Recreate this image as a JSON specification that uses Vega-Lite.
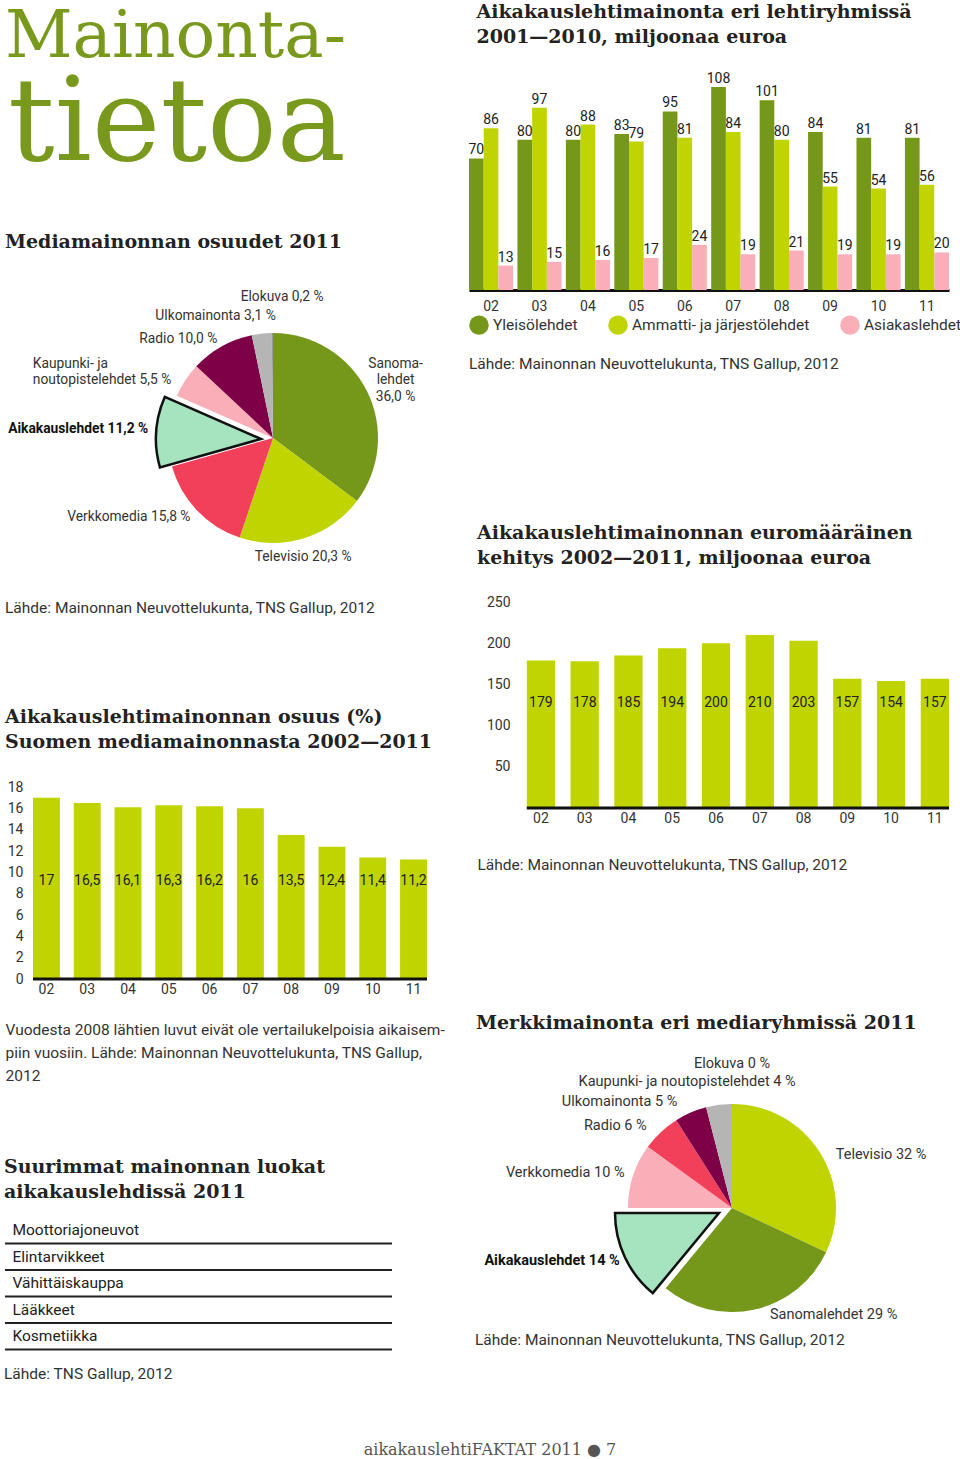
{
  "$schema": "https://vega.github.io/schema/vega-lite/v6.json",
  "background": "white",
  "padding": {"left": 4, "top": 2, "right": 0, "bottom": 0},
  "config": {
    "view": {"stroke": null},
    "font": "Roboto",
    "axis": {"labelFont": "Roboto", "labelFontSize": 14, "labelColor": "#333", "titleFont": "Roboto", "titleFontWeight": "normal", "titleFontSize": 15.5, "titleColor": "#333", "grid": false, "ticks": false, "domain": false, "labelAngle": 0, "labelOverlap": false},
    "title": {"font": "DejaVu Serif", "fontSize": 19, "fontWeight": "bold", "color": "#222", "anchor": "start", "lineHeight": 25},
    "text": {"font": "Roboto", "fontSize": 13.8, "color": "#333"},
    "locale": {"number": {"decimal": ",", "thousands": " ", "grouping": [3], "currency": ["", " €"]}}
  },
  "title": {"text": "aikakauslehtiFAKTAT 2011  ●  7", "orient": "bottom", "anchor": "middle", "font": "DejaVu Serif", "fontWeight": "normal", "fontSize": 16, "color": "#555", "offset": 60, "dx": 7},
  "spacing": 15,
  "resolve": {"scale": {"color": "independent", "theta": "independent"}},
  "hconcat": [
    {
      "spacing": 50,
      "resolve": {"scale": {"color": "independent", "theta": "independent"}},
      "vconcat": [
        {
          "width": 344, "height": 80,
          "title": {"text": "Mainonta-", "font": "DejaVu Serif", "fontWeight": "normal", "fontSize": 66, "color": "#78991c", "offset": -4, "lineHeight": 66},
          "data": {"values": [{"t": "tietoa"}]},
          "mark": {"type": "text", "font": "DejaVu Serif", "fontSize": 116, "color": "#78991c", "align": "center", "baseline": "alphabetic", "dy": 33},
          "encoding": {"text": {"field": "t", "type": "nominal"}}
        },
        {
          "spacing": 90,
          "resolve": {"scale": {"color": "independent", "theta": "independent"}},
          "vconcat": [
            {
              "resolve": {"scale": {"color": "independent", "theta": "independent"}},
              "title": {"text": "Lähde: Mainonnan Neuvottelukunta, TNS Gallup, 2012", "orient": "bottom", "anchor": "start", "font": "Roboto", "fontWeight": "normal", "fontSize": 15.5, "color": "#333", "offset": 22},
              "vconcat": [
                {
                  "width": 448, "height": 214,
                  "title": {"text": "Mediamainonnan osuudet 2011", "offset": 29},
                  "data": {"values": [
                    {"n": 1, "cat": "Sanomalehdet", "v": 36.0, "lab": "Sanoma-\nlehdet\n36,0 %"},
                    {"n": 2, "cat": "Televisio", "v": 20.3, "lab": "Televisio 20,3 %"},
                    {"n": 3, "cat": "Verkkomedia", "v": 15.8, "lab": "Verkkomedia 15,8 %"},
                    {"n": 4, "cat": "Aikakauslehdet", "v": 11.2, "lab": "Aikakauslehdet 11,2 %"},
                    {"n": 5, "cat": "Kaupunki- ja noutopistelehdet", "v": 5.5, "lab": "Kaupunki- ja\nnoutopistelehdet 5,5 %"},
                    {"n": 6, "cat": "Radio", "v": 10.0, "lab": "Radio 10,0 %"},
                    {"n": 7, "cat": "Ulkomainonta", "v": 3.1, "lab": "Ulkomainonta 3,1 %"},
                    {"n": 8, "cat": "Elokuva", "v": 0.2, "lab": "Elokuva 0,2 %"}
                  ]},
                  "encoding": {
                    "theta": {"field": "v", "type": "quantitative", "stack": true},
                    "order": {"field": "n", "type": "quantitative"}
                  },
                  "layer": [
                    {"mark": {"type": "arc", "outerRadius": 105, "xOffset": 44},
                     "encoding": {"color": {"field": "cat", "type": "nominal", "legend": null, "scale": {"domain": ["Sanomalehdet", "Televisio", "Verkkomedia", "Aikakauslehdet", "Kaupunki- ja noutopistelehdet", "Radio", "Ulkomainonta", "Elokuva"], "range": ["#76981a", "#bfd400", "#f2405a", "#a6e4c0", "#f9aeb8", "#7e0046", "#b5b5b5", "#999999"]}},
                       "opacity": {"condition": {"test": "datum.cat === 'Aikakauslehdet'", "value": 0}, "value": 1}}},
                    {"mark": {"type": "arc", "outerRadius": 105, "xOffset": 32, "yOffset": 1, "stroke": "#111", "strokeWidth": 2.5},
                     "encoding": {"color": {"field": "cat", "type": "nominal", "legend": null},
                       "opacity": {"condition": {"test": "datum.cat === 'Aikakauslehdet'", "value": 1}, "value": 0}}},
                    {"mark": {"type": "text", "lineBreak": "\n", "baseline": "middle", "xOffset": 44, "radius": 137, "align": "center", "dy": -13, "lineHeight": 16.5},
                     "encoding": {"text": {"condition": {"test": "datum.cat === 'Sanomalehdet'", "field": "lab", "type": "nominal"}, "value": ""}}},
                    {"mark": {"type": "text", "baseline": "middle", "xOffset": 44, "radius": 125, "align": "center", "dx": -7},
                     "encoding": {"text": {"condition": {"test": "datum.cat === 'Televisio'", "field": "lab", "type": "nominal"}, "value": ""}}},
                    {"mark": {"type": "text", "baseline": "middle", "xOffset": 44, "radius": 114, "align": "right"},
                     "encoding": {"text": {"condition": {"test": "datum.cat === 'Verkkomedia' || datum.cat === 'Radio'", "field": "lab", "type": "nominal"}, "value": ""}}},
                    {"mark": {"type": "text", "baseline": "middle", "xOffset": 44, "radius": 125, "align": "right", "fontWeight": "bold", "color": "#111"},
                     "encoding": {"text": {"condition": {"test": "datum.cat === 'Aikakauslehdet'", "field": "lab", "type": "nominal"}, "value": ""}}},
                    {"mark": {"type": "text", "lineBreak": "\n", "baseline": "middle", "xOffset": 44, "radius": 120, "align": "left", "dx": -140, "dy": -8, "lineHeight": 16.5},
                     "encoding": {"text": {"condition": {"test": "datum.cat === 'Kaupunki- ja noutopistelehdet'", "field": "lab", "type": "nominal"}, "value": ""}}},
                    {"mark": {"type": "text", "baseline": "middle", "xOffset": 44, "radius": 123, "align": "right", "dx": 16},
                     "encoding": {"text": {"condition": {"test": "datum.cat === 'Ulkomainonta'", "field": "lab", "type": "nominal"}, "value": ""}}},
                    {"mark": {"type": "text", "baseline": "middle", "xOffset": 44, "radius": 141, "align": "center", "dx": 10},
                     "encoding": {"text": {"condition": {"test": "datum.cat === 'Elokuva'", "field": "lab", "type": "nominal"}, "value": ""}}}
                  ]
                }
              ]
            },
            {
              "spacing": 74,
              "resolve": {"scale": {"color": "independent", "theta": "independent"}},
              "vconcat": [
                {
                  "width": 422, "height": 192,
                  "title": {"text": ["Aikakauslehtimainonnan osuus (%)", "Suomen mediamainonnasta 2002—2011"], "offset": 28.5},
                  "data": {"values": [
                    {"y": "02", "v": 17}, {"y": "03", "v": 16.5}, {"y": "04", "v": 16.1}, {"y": "05", "v": 16.3}, {"y": "06", "v": 16.2},
                    {"y": "07", "v": 16}, {"y": "08", "v": 13.5}, {"y": "09", "v": 12.4}, {"y": "10", "v": 11.4}, {"y": "11", "v": 11.2}
                  ]},
                  "encoding": {
                    "x": {"field": "y", "type": "ordinal", "scale": {"paddingInner": 0.34, "paddingOuter": 0.343, "align": 1},
                      "axis": {"labelPadding": 3, "title": ["Vuodesta 2008 lähtien luvut eivät ole vertailukelpoisia aikaisem-", "piin vuosiin. Lähde: Mainonnan Neuvottelukunta, TNS Gallup,", "2012"], "titleAlign": "left", "titleAnchor": "start", "titleX": 0, "titleY": 55.5, "titleBaseline": "alphabetic", "titleLineHeight": 23}}
                  },
                  "layer": [
                    {"mark": {"type": "bar", "color": "#bfd400"},
                     "encoding": {"y": {"field": "v", "type": "quantitative", "scale": {"domain": [0, 18], "nice": false}, "axis": {"tickCount": 9, "labelOverlap": false, "labelSeparation": 0, "offset": -26, "labelPadding": 8, "title": null}}}},
                    {"mark": {"type": "text", "baseline": "middle", "fontSize": 14, "color": "#222"},
                     "encoding": {"y": {"datum": 9.2}, "text": {"field": "v", "type": "quantitative", "format": "~g"}}},
                    {"data": {"values": [{}]},
                     "mark": {"type": "rule", "strokeWidth": 3, "color": "#111"},
                     "encoding": {"x": {"datum": "02", "type": "ordinal", "bandPosition": 0}, "x2": {"datum": "11", "bandPosition": 1}, "y": {"datum": 0}}}
                  ]
                },
                {
                  "resolve": {"scale": {"color": "independent", "theta": "independent"}},
                  "title": {"text": "Lähde: TNS Gallup, 2012", "orient": "bottom", "anchor": "start", "font": "Roboto", "fontWeight": "normal", "fontSize": 15.5, "color": "#333", "offset": 16},
                  "vconcat": [
                    {
                      "width": 387, "height": 132.5,
                      "title": {"text": ["Suurimmat mainonnan luokat", "aikakauslehdissä 2011"], "offset": 15},
                      "data": {"values": [{"k": "Moottoriajoneuvot"}, {"k": "Elintarvikkeet"}, {"k": "Vähittäiskauppa"}, {"k": "Lääkkeet"}, {"k": "Kosmetiikka"}]},
                      "mark": {"type": "rule", "strokeWidth": 2, "color": "#222"},
                      "encoding": {
                        "y": {"field": "k", "type": "nominal", "sort": null, "bandPosition": 1, "scale": {"type": "band", "paddingInner": 0, "paddingOuter": 0},
                          "axis": {"title": null, "labelAlign": "left", "labelPadding": -7, "labelFontSize": 15.5, "labelColor": "#222", "labelBaseline": "middle"}}
                      }
                    }
                  ]
                }
              ]
            }
          ]
        }
      ]
    },
    {
      "spacing": 151,
      "resolve": {"scale": {"color": "independent", "theta": "independent"}},
      "vconcat": [
        {
          "width": 480, "height": 203,
          "title": {"text": ["Aikakauslehtimainonta eri lehtiryhmissä", "2001—2010, miljoonaa euroa"], "dx": 8, "offset": 25.3},
          "data": {"values": [
            {"y": "02", "g": "Yleisölehdet", "v": 70}, {"y": "02", "g": "Ammatti- ja järjestölehdet", "v": 86}, {"y": "02", "g": "Asiakaslehdet", "v": 13},
            {"y": "03", "g": "Yleisölehdet", "v": 80}, {"y": "03", "g": "Ammatti- ja järjestölehdet", "v": 97}, {"y": "03", "g": "Asiakaslehdet", "v": 15},
            {"y": "04", "g": "Yleisölehdet", "v": 80}, {"y": "04", "g": "Ammatti- ja järjestölehdet", "v": 88}, {"y": "04", "g": "Asiakaslehdet", "v": 16},
            {"y": "05", "g": "Yleisölehdet", "v": 83}, {"y": "05", "g": "Ammatti- ja järjestölehdet", "v": 79}, {"y": "05", "g": "Asiakaslehdet", "v": 17},
            {"y": "06", "g": "Yleisölehdet", "v": 95}, {"y": "06", "g": "Ammatti- ja järjestölehdet", "v": 81}, {"y": "06", "g": "Asiakaslehdet", "v": 24},
            {"y": "07", "g": "Yleisölehdet", "v": 108}, {"y": "07", "g": "Ammatti- ja järjestölehdet", "v": 84}, {"y": "07", "g": "Asiakaslehdet", "v": 19},
            {"y": "08", "g": "Yleisölehdet", "v": 101}, {"y": "08", "g": "Ammatti- ja järjestölehdet", "v": 80}, {"y": "08", "g": "Asiakaslehdet", "v": 21},
            {"y": "09", "g": "Yleisölehdet", "v": 84}, {"y": "09", "g": "Ammatti- ja järjestölehdet", "v": 55}, {"y": "09", "g": "Asiakaslehdet", "v": 19},
            {"y": "10", "g": "Yleisölehdet", "v": 81}, {"y": "10", "g": "Ammatti- ja järjestölehdet", "v": 54}, {"y": "10", "g": "Asiakaslehdet", "v": 19},
            {"y": "11", "g": "Yleisölehdet", "v": 81}, {"y": "11", "g": "Ammatti- ja järjestölehdet", "v": 56}, {"y": "11", "g": "Asiakaslehdet", "v": 20}
          ]},
          "encoding": {
            "x": {"field": "y", "type": "ordinal", "scale": {"paddingInner": 0.09, "paddingOuter": 0},
              "axis": {"title": null, "domain": true, "domainColor": "#111", "domainWidth": 3, "labelPadding": 9}},
            "xOffset": {"field": "g", "type": "nominal", "sort": ["Yleisölehdet", "Ammatti- ja järjestölehdet", "Asiakaslehdet"]},
            "y": {"field": "v", "type": "quantitative", "scale": {"domain": [0, 108], "nice": false}, "axis": null}
          },
          "layer": [
            {"mark": {"type": "bar"},
             "encoding": {"color": {"field": "g", "type": "nominal", "sort": ["Yleisölehdet", "Ammatti- ja järjestölehdet", "Asiakaslehdet"],
               "scale": {"range": ["#76981a", "#bfd400", "#f9aeb8"]},
               "legend": {"orient": "bottom", "direction": "horizontal", "title": "Lähde: Mainonnan Neuvottelukunta, TNS Gallup, 2012", "titleOrient": "bottom", "titleAnchor": "start", "titleFont": "Roboto", "titleFontWeight": "normal", "titleFontSize": 15.5, "titleColor": "#333", "titlePadding": 22, "titleLimit": 600,
                 "symbolType": "circle", "symbolSize": 380, "symbolStrokeWidth": 0, "symbolOpacity": 1, "labelFont": "Roboto", "labelFontSize": 15.5, "labelColor": "#333", "labelOffset": 4, "labelLimit": 300, "columnPadding": 30, "offset": 2}}}},
            {"mark": {"type": "text", "baseline": "bottom", "dy": -1, "fontSize": 14, "color": "#222"},
             "encoding": {"text": {"field": "v", "type": "quantitative"}}}
          ]
        },
        {
          "spacing": 141,
          "resolve": {"scale": {"color": "independent", "theta": "independent"}},
          "vconcat": [
            {
              "width": 480, "height": 206,
              "title": {"text": ["Aikakauslehtimainonnan euromääräinen", "kehitys 2002—2011, miljoonaa euroa"], "dx": 8, "offset": 26.7},
              "data": {"values": [
                {"y": "02", "v": 179}, {"y": "03", "v": 178}, {"y": "04", "v": 185}, {"y": "05", "v": 194}, {"y": "06", "v": 200},
                {"y": "07", "v": 210}, {"y": "08", "v": 203}, {"y": "09", "v": 157}, {"y": "10", "v": 154}, {"y": "11", "v": 157}
              ]},
              "encoding": {
                "x": {"field": "y", "type": "ordinal", "scale": {"paddingInner": 0.354, "paddingOuter": 0.66, "align": 1},
                  "axis": {"labelPadding": 3, "title": "Lähde: Mainonnan Neuvottelukunta, TNS Gallup, 2012", "titleAlign": "left", "titleAnchor": "start", "titleX": 8, "titleY": 61, "titleBaseline": "alphabetic"}}
              },
              "layer": [
                {"mark": {"type": "bar", "color": "#bfd400"},
                 "encoding": {"y": {"field": "v", "type": "quantitative", "scale": {"domain": [0, 250], "nice": false}, "axis": {"values": [50, 100, 150, 200, 250], "offset": -51, "labelPadding": 10, "title": null}}}},
                {"mark": {"type": "text", "baseline": "middle", "fontSize": 14, "color": "#222"},
                 "encoding": {"y": {"datum": 128}, "text": {"field": "v", "type": "quantitative"}}},
                {"data": {"values": [{}]},
                 "mark": {"type": "rule", "strokeWidth": 3, "color": "#111"},
                 "encoding": {"x": {"datum": "02", "type": "ordinal", "bandPosition": 0}, "x2": {"datum": "11", "bandPosition": 1}, "y": {"datum": 0}}}
              ]
            },
            {
              "resolve": {"scale": {"color": "independent", "theta": "independent"}},
              "title": {"text": "Lähde: Mainonnan Neuvottelukunta, TNS Gallup, 2012", "orient": "bottom", "anchor": "start", "font": "Roboto", "fontWeight": "normal", "fontSize": 15.5, "color": "#333", "dx": 6, "offset": -22},
              "vconcat": [
                {
                  "width": 460, "height": 234,
                  "title": {"text": "Merkkimainonta eri mediaryhmissä 2011", "dx": 7, "offset": 23},
                  "data": {"values": [
                    {"n": 1, "cat": "Televisio", "v": 32, "lab": "Televisio 32 %"},
                    {"n": 2, "cat": "Sanomalehdet", "v": 29, "lab": "Sanomalehdet 29 %"},
                    {"n": 3, "cat": "Aikakauslehdet", "v": 14, "lab": "Aikakauslehdet 14 %"},
                    {"n": 4, "cat": "Verkkomedia", "v": 10, "lab": "Verkkomedia 10 %"},
                    {"n": 5, "cat": "Radio", "v": 6, "lab": "Radio 6 %"},
                    {"n": 6, "cat": "Ulkomainonta", "v": 5, "lab": "Ulkomainonta 5 %"},
                    {"n": 7, "cat": "Kaupunki- ja noutopistelehdet", "v": 4, "lab": "Kaupunki- ja noutopistelehdet 4 %"},
                    {"n": 8, "cat": "Elokuva", "v": 0, "lab": "Elokuva 0 %"}
                  ]},
                  "encoding": {
                    "theta": {"field": "v", "type": "quantitative", "stack": true},
                    "order": {"field": "n", "type": "quantitative"}
                  },
                  "layer": [
                    {"mark": {"type": "arc", "outerRadius": 104, "xOffset": 33},
                     "encoding": {"color": {"field": "cat", "type": "nominal", "legend": null, "scale": {"domain": ["Televisio", "Sanomalehdet", "Aikakauslehdet", "Verkkomedia", "Radio", "Ulkomainonta", "Kaupunki- ja noutopistelehdet", "Elokuva"], "range": ["#bfd400", "#76981a", "#a6e4c0", "#f9aeb8", "#f2405a", "#7e0046", "#b5b5b5", "#999999"]}},
                       "opacity": {"condition": {"test": "datum.cat === 'Aikakauslehdet'", "value": 0}, "value": 1}}},
                    {"mark": {"type": "arc", "outerRadius": 104, "xOffset": 20, "yOffset": 5, "stroke": "#111", "strokeWidth": 2.5},
                     "encoding": {"color": {"field": "cat", "type": "nominal", "legend": null},
                       "opacity": {"condition": {"test": "datum.cat === 'Aikakauslehdet'", "value": 1}, "value": 0}}},
                    {"mark": {"type": "text", "baseline": "middle", "xOffset": 33, "radius": 117, "align": "left", "dx": 5, "dy": 10, "fontSize": 14.5},
                     "encoding": {"text": {"condition": {"test": "datum.cat === 'Televisio'", "field": "lab", "type": "nominal"}, "value": ""}}},
                    {"mark": {"type": "text", "baseline": "middle", "xOffset": 33, "radius": 110, "align": "left", "dx": 14, "fontSize": 14.5},
                     "encoding": {"text": {"condition": {"test": "datum.cat === 'Sanomalehdet'", "field": "lab", "type": "nominal"}, "value": ""}}},
                    {"mark": {"type": "text", "baseline": "middle", "xOffset": 33, "radius": 124, "align": "right", "fontWeight": "bold", "color": "#111", "fontSize": 14.5},
                     "encoding": {"text": {"condition": {"test": "datum.cat === 'Aikakauslehdet'", "field": "lab", "type": "nominal"}, "value": ""}}},
                    {"mark": {"type": "text", "baseline": "middle", "xOffset": 33, "radius": 113, "align": "right", "fontSize": 14.5},
                     "encoding": {"text": {"condition": {"test": "datum.cat === 'Verkkomedia'", "field": "lab", "type": "nominal"}, "value": ""}}},
                    {"mark": {"type": "text", "baseline": "middle", "xOffset": 33, "radius": 113, "align": "right", "dx": -8, "fontSize": 14.5},
                     "encoding": {"text": {"condition": {"test": "datum.cat === 'Radio'", "field": "lab", "type": "nominal"}, "value": ""}}},
                    {"mark": {"type": "text", "baseline": "middle", "xOffset": 33, "radius": 115, "align": "right", "dx": -9, "fontSize": 14.5},
                     "encoding": {"text": {"condition": {"test": "datum.cat === 'Ulkomainonta'", "field": "lab", "type": "nominal"}, "value": ""}}},
                    {"mark": {"type": "text", "baseline": "middle", "xOffset": 33, "radius": 127, "align": "center", "dx": -29, "fontSize": 14.5},
                     "encoding": {"text": {"condition": {"test": "datum.cat === 'Kaupunki- ja noutopistelehdet'", "field": "lab", "type": "nominal"}, "value": ""}}},
                    {"mark": {"type": "text", "baseline": "middle", "xOffset": 33, "radius": 144, "align": "center", "fontSize": 14.5},
                     "encoding": {"text": {"condition": {"test": "datum.cat === 'Elokuva'", "field": "lab", "type": "nominal"}, "value": ""}}}
                  ]
                }
              ]
            }
          ]
        }
      ]
    }
  ]
}
